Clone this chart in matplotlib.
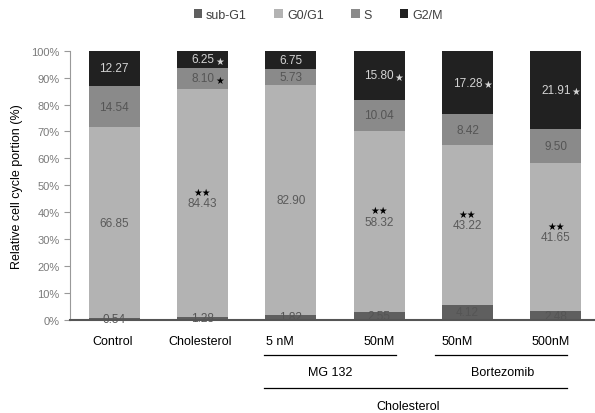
import matplotlib.pyplot as plt
import numpy as np
from matplotlib.patches import Patch
from matplotlib.lines import Line2D

# Datos (valores originales, se normalizan a 100 %)
grupos = ["Control", "Cholesterol", "5 nM", "50nM", "50nM", "500nM"]
sub_g1 = [0.54, 1.28, 1.82, 2.55, 4.12, 2.48]
g0_g1 = [66.85, 84.43, 82.90, 58.32, 43.22, 41.65]
fase_s = [14.54, 8.10, 5.73, 10.04, 8.42, 9.50]
g2_m = [12.27, 6.25, 6.75, 15.80, 17.28, 21.91]

# Marcas de significancia por segmento
estrellas_g0 = ["", "**", "", "**", "**", "**"]
estrellas_s = ["", "*", "", "", "", ""]
estrellas_g2m = ["", "*", "", "*", "*", "*"]

nombres_fase = ["sub-G1", "G0/G1", "S", "G2/M"]
colores = ["#5f5f5f", "#b3b3b3", "#8a8a8a", "#212121"]
color_texto = ["#555555", "#5a5a5a", "#555555", "#d4d4d4"]

figura = plt.figure(figsize=(5.95, 4.14), dpi=100)
plt.rcParams["font.family"] = ["Liberation Sans", "DejaVu Sans"]

ancho_fig, alto_fig = 595, 414
eje = figura.add_axes([70 / ancho_fig, (alto_fig - 321) / alto_fig,
                       530 / ancho_fig, (321 - 51.7) / alto_fig])

series = np.array([sub_g1, g0_g1, fase_s, g2_m])
totales = series.sum(axis=0)
porcentajes = series / totales * 100
x = np.arange(len(grupos))
ancho_barra = 0.577

base = np.zeros(len(grupos))
for i, (nombre, color) in enumerate(zip(nombres_fase, colores)):
    eje.bar(x, porcentajes[i], ancho_barra, bottom=base, color=color,
            label=nombre, zorder=2)
    for j in range(len(grupos)):
        centro = base[j] + porcentajes[i][j] / 2
        etiqueta = f"{series[i][j]:.2f}"
        eje.text(x[j], centro, etiqueta, ha="center", va="center",
                 fontsize=8.5, color=color_texto[i], zorder=4)
        desplaza = 0.035 * len(etiqueta)
        if i == 1 and estrellas_g0[j]:
            eje.text(x[j], centro + 4.2, "★★", ha="center", va="center",
                     fontsize=7, color="black", family="DejaVu Sans", zorder=4)
        if i == 2 and estrellas_s[j]:
            eje.text(x[j] + desplaza, centro - 0.6, "★", ha="left", va="center",
                     fontsize=7, color="black", family="DejaVu Sans", zorder=4)
        if i == 3 and estrellas_g2m[j]:
            eje.text(x[j] + desplaza, centro - 0.6, "★", ha="left", va="center",
                     fontsize=7, color="#d4d4d4", family="DejaVu Sans", zorder=4)
    base += porcentajes[i]

eje.set_xlim(-0.5, len(grupos) - 0.5)
eje.set_ylim(0, 100)
eje.set_yticks(np.arange(0, 101, 10))
eje.set_yticklabels([f"{v}%" for v in range(0, 101, 10)], fontsize=8, color="#7a7a7a")
eje.set_xticks([])
eje.tick_params(axis="y", direction="out", length=4, color="#999999", width=0.8)
eje.set_ylabel("Relative cell cycle portion (%)", fontsize=9, labelpad=6)
for lado in ["top", "right"]:
    eje.spines[lado].set_visible(False)
eje.spines["left"].set_color("#999999")
eje.spines["left"].set_linewidth(0.8)
eje.spines["bottom"].set_color("#555555")
eje.spines["bottom"].set_linewidth(1.5)
eje.spines["bottom"].set_zorder(3)


# Etiquetas de categorias y agrupaciones debajo del eje
def fy(pix):
    return (alto_fig - pix) / alto_fig


def fx(pix):
    return pix / ancho_fig


posiciones_etiqueta = [113, 200, 280, 379, 457, 551]
for texto, px in zip(grupos, posiciones_etiqueta):
    figura.text(fx(px), fy(342), texto, ha="center", va="center", fontsize=9)

lineas = [(264, 396, 356), (435, 567, 356), (264, 567, 389)]
for x0, x1, y0 in lineas:
    figura.add_artist(Line2D([fx(x0), fx(x1)], [fy(y0), fy(y0)],
                             color="black", linewidth=0.9))
figura.text(fx(330), fy(373), "MG 132", ha="center", va="center", fontsize=9)
figura.text(fx(503), fy(373), "Bortezomib", ha="center", va="center", fontsize=9)
figura.text(fx(408), fy(407), "Cholesterol", ha="center", va="center", fontsize=9)

manejadores = [Patch(facecolor=c, edgecolor="none") for c in colores]
figura.legend(manejadores, nombres_fase, loc="center", ncol=4,
              bbox_to_anchor=(fx(318), fy(16)), frameon=False, fontsize=9,
              handlelength=0.7, handleheight=0.7, handletextpad=0.3,
              columnspacing=2.2, labelcolor="#404040")

figura.savefig("out.png", dpi=100)
